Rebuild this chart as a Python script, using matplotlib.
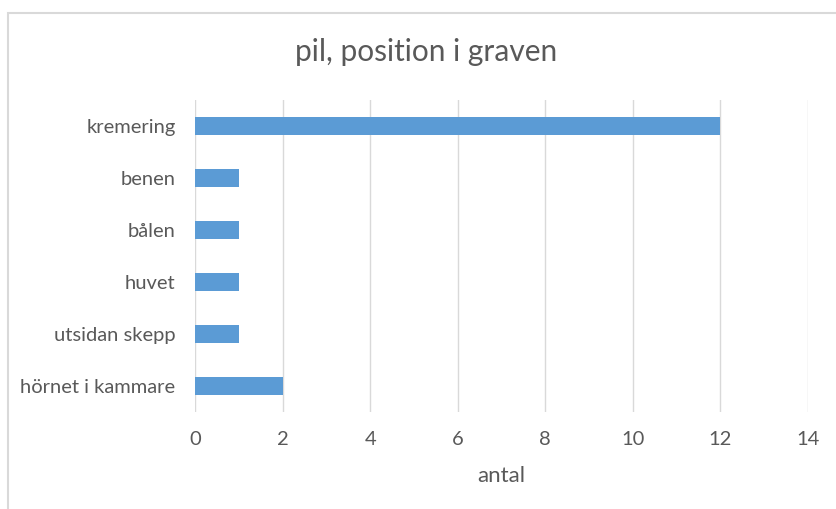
import matplotlib.pyplot as plt
from matplotlib.patches import Rectangle

categories = ["hörnet i kammare", "utsidan skepp", "huvet", "bålen", "benen", "kremering"]
values = [2, 1, 1, 1, 1, 12]
xticks = [0, 2, 4, 6, 8, 10, 12, 14]

plt.rcParams['font.family'] = ['Lato', 'DejaVu Sans']
text_color = '#595959'

fig = plt.figure(figsize=(8.36, 5.09), dpi=100)
ax = fig.add_axes([195 / 836, 1 - 412 / 509, (808 - 195) / 836, (412 - 100) / 509])

ax.barh(range(len(categories)), values, height=0.34, color='#5b9bd5', zorder=3)
ax.set_ylim(-0.5, len(categories) - 0.5)
ax.set_xlim(0, 14)
ax.set_xticks(xticks)
ax.set_yticks(range(len(categories)))
ax.set_yticklabels(categories, fontsize=14.2)
ax.tick_params(axis='both', length=0, labelsize=14.5, colors=text_color)
ax.tick_params(axis='x', pad=14)
ax.tick_params(axis='y', pad=14)
ax.grid(axis='x', color='#d9d9d9', linewidth=1, zorder=0)
for s in ax.spines.values():
    s.set_visible(False)

ax.set_xlabel("antal", fontsize=16, color=text_color, labelpad=13)
fig.text(426 / 836, 1 - 52 / 509, "pil, position i graven", ha='center', va='center',
         fontsize=21.5, color=text_color)

# chart border (cut off at right and bottom)
fig.add_artist(Rectangle((8 / 836, -0.1), 1.2, 1 - 13 / 509 + 0.1, transform=fig.transFigure,
                         fill=False, edgecolor='#d9d9d9', linewidth=1.5))

fig.savefig("out.png", dpi=100)
